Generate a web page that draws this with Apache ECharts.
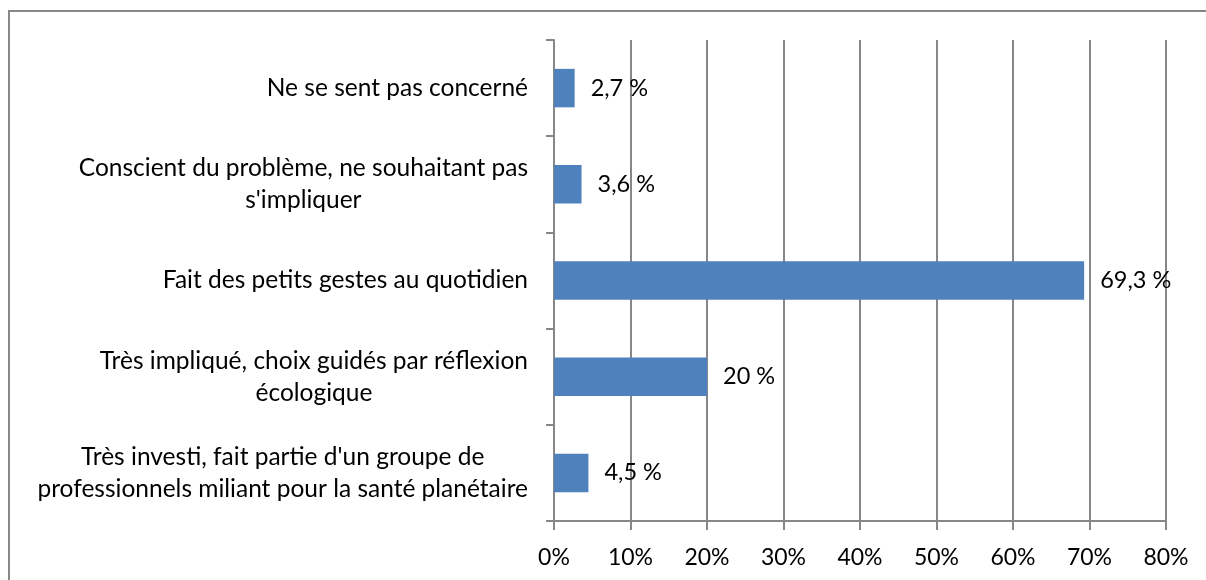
<!DOCTYPE html>
<html>
<head>
<meta charset="utf-8">
<script src="https://cdn.jsdelivr.net/npm/echarts@6/dist/echarts.min.js"></script>
<style>
  html, body { margin: 0; padding: 0; background: #ffffff; }
  body { width: 1206px; height: 580px; overflow: hidden; position: relative; }
  #frame { position: absolute; left: 8px; top: 10px; width: 1220px; height: 620px; border: 2px solid #878787; box-sizing: border-box; }
  #chart { position: absolute; left: 0; top: 0; width: 1206px; height: 580px; }
</style>
</head>
<body>
<div id="frame"></div>
<div id="chart"></div>
<script>
  const categories = [
    'Ne se sent pas concerné',
    'Conscient du problème, ne souhaitant pas\ns\'impliquer',
    'Fait des petits gestes au quotidien',
    'Très impliqué, choix guidés par réflexion\nécologique',
    'Très investi, fait partie d\'un groupe de\nprofessionnels miliant pour la santé planétaire'
  ];
  const values = [2.7, 3.6, 69.3, 20, 4.5];
  const valueLabels = ['2,7 %', '3,6 %', '69,3 %', '20 %', '4,5 %'];

  const font = 'Lato, "Open Sans", sans-serif';
  const grey = '#878787';

  const myChart = echarts.init(document.getElementById('chart'));
  const option = {
    animation: false,
    grid: { left: 554, right: 40, top: 40, bottom: 59 },
    xAxis: {
      type: 'value',
      min: 0,
      max: 80,
      interval: 10,
      axisLine: { show: true, lineStyle: { color: grey, width: 2 } },
      axisTick: { show: true, length: 9, lineStyle: { color: grey, width: 2 } },
      splitLine: { show: true, lineStyle: { color: grey, width: 2 } },
      axisLabel: { color: '#000', fontSize: 23, fontFamily: font, margin: 25, formatter: v => v + '%' }
    },
    yAxis: {
      type: 'category',
      inverse: true,
      data: categories,
      axisLine: { show: true, lineStyle: { color: grey, width: 2 } },
      axisTick: { show: true, length: 8, lineStyle: { color: grey, width: 2 } },
      axisLabel: {
        color: '#000',
        fontSize: 24.5,
        fontFamily: font,
        margin: 26,
        lineHeight: 32,
        align: 'right',
        formatter: v => v.split('\n').map(l => '{c|' + l + '}').join('\n'),
        rich: { c: { align: 'center', fontSize: 24.5, fontFamily: font, lineHeight: 32, color: '#000' } }
      }
    },
    series: [{
      type: 'bar',
      data: values,
      barWidth: '40%',
      itemStyle: { color: '#4F81BD' },
      label: {
        show: true,
        position: 'right',
        distance: 16,
        color: '#000',
        fontSize: 23.5,
        fontFamily: font,
        formatter: p => valueLabels[p.dataIndex]
      }
    }]
  };
  myChart.setOption(option);
</script>
</body>
</html>
